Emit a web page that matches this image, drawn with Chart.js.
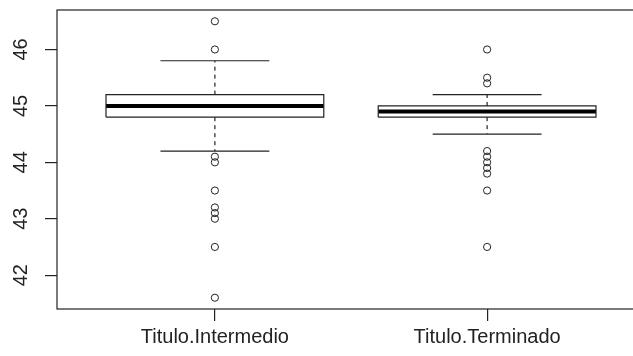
<!DOCTYPE html>
<html>
<head>
<meta charset="utf-8">
<script src="https://cdn.jsdelivr.net/npm/chart.js@4.4.0/dist/chart.umd.min.js"></script>
<style>
    html, body { margin: 0; padding: 0; background: #fff; overflow: hidden; }
    #wrap { width: 633px; height: 356px; overflow: hidden; }
</style>
</head>
<body>
<div id="wrap">
    <canvas id="boxChart" width="660" height="356"></canvas>
</div>
<script>
// Boxplot data
var categories = ['Titulo.Intermedio', 'Titulo.Terminado'];
var positions = [1, 2];
var whiskerLow = [44.2, 44.5];
var quartile1 = [44.8, 44.8];
var medians = [45.0, 44.9];
var quartile3 = [45.2, 45.0];
var whiskerHigh = [45.8, 45.2];
var outliersIntermedio = [46.5, 46.0, 44.1, 44.0, 43.5, 43.2, 43.1, 43.0, 42.5, 41.6];
var outliersTerminado = [46.0, 45.5, 45.4, 44.2, 44.1, 44.0, 43.9, 43.8, 43.5, 42.5];
var yTicks = [42, 43, 44, 45, 46];

var BOX_HALF = 0.4;
var CAP_HALF = 0.2;
var INK = '#222';

// Build line datasets for every box
function buildDatasets() {
    var sets = [];
    positions.forEach(function(x, i) {
        // box outline
        sets.push({
            data: [
                {x: x - BOX_HALF, y: quartile1[i]}, {x: x + BOX_HALF, y: quartile1[i]},
                {x: x + BOX_HALF, y: quartile3[i]}, {x: x - BOX_HALF, y: quartile3[i]},
                {x: x - BOX_HALF, y: quartile1[i]}
            ],
            showLine: true, borderColor: INK, borderWidth: 1.2, pointRadius: 0, fill: false
        });
        // median
        sets.push({
            data: [{x: x - BOX_HALF, y: medians[i]}, {x: x + BOX_HALF, y: medians[i]}],
            showLine: true, borderColor: '#000', borderWidth: 4, pointRadius: 0
        });
        // whiskers (dashed)
        sets.push({
            data: [{x: x, y: quartile3[i]}, {x: x, y: whiskerHigh[i]}],
            showLine: true, borderColor: INK, borderWidth: 1.2, borderDash: [4, 4], pointRadius: 0
        });
        sets.push({
            data: [{x: x, y: quartile1[i]}, {x: x, y: whiskerLow[i]}],
            showLine: true, borderColor: INK, borderWidth: 1.2, borderDash: [4, 4], pointRadius: 0
        });
        // caps
        sets.push({
            data: [{x: x - CAP_HALF, y: whiskerHigh[i]}, {x: x + CAP_HALF, y: whiskerHigh[i]}],
            showLine: true, borderColor: INK, borderWidth: 1.2, pointRadius: 0
        });
        sets.push({
            data: [{x: x - CAP_HALF, y: whiskerLow[i]}, {x: x + CAP_HALF, y: whiskerLow[i]}],
            showLine: true, borderColor: INK, borderWidth: 1.2, pointRadius: 0
        });
    });
    // outliers
    [outliersIntermedio, outliersTerminado].forEach(function(list, i) {
        sets.push({
            data: list.map(function(v) { return {x: positions[i], y: v}; }),
            showLine: false, pointStyle: 'circle', pointRadius: 3.6,
            pointBackgroundColor: 'rgba(0,0,0,0)', pointBorderColor: INK, pointBorderWidth: 1
        });
    });
    return sets;
}

// Frame around the plot and rotated y labels
var framePlugin = {
    id: 'frame',
    afterDraw: function(chart) {
        var ctx = chart.ctx;
        var area = chart.chartArea;
        var yScale = chart.scales.y;
        ctx.save();
        ctx.strokeStyle = INK;
        ctx.lineWidth = 1.2;
        ctx.strokeRect(area.left, area.top, area.right - area.left, area.bottom - area.top);
        ctx.fillStyle = INK;
        ctx.font = '20px "Liberation Sans", Arial, sans-serif';
        ctx.textAlign = 'center';
        ctx.textBaseline = 'middle';
        yTicks.forEach(function(v) {
            var py = yScale.getPixelForValue(v);
            ctx.save();
            ctx.translate(21, py);
            ctx.rotate(-Math.PI / 2);
            ctx.fillText(String(v), 0, 0);
            ctx.restore();
        });
        ctx.restore();
    }
};

new Chart(document.getElementById('boxChart'), {
    type: 'scatter',
    data: { datasets: buildDatasets() },
    options: {
        responsive: false,
        animation: false,
        devicePixelRatio: 1,
        layout: { padding: { top: 10, right: 15, left: 0, bottom: 0 } },
        plugins: { legend: { display: false }, tooltip: { enabled: false } },
        scales: {
            x: {
                type: 'linear',
                min: 0.42,
                max: 2.58,
                afterBuildTicks: function(scale) {
                    scale.ticks = positions.map(function(p) { return {value: p}; });
                },
                afterFit: function(scale) { scale.height = 47; },
                ticks: {
                    autoSkip: false,
                    maxRotation: 0,
                    padding: 4,
                    color: INK,
                    font: { family: '"Liberation Sans", Arial, sans-serif', size: 20 },
                    callback: function(value) {
                        var idx = positions.indexOf(value);
                        return idx >= 0 ? categories[idx] : '';
                    }
                },
                grid: { drawOnChartArea: false, drawTicks: true, tickLength: 12, color: INK, lineWidth: 1.2 },
                border: { display: false }
            },
            y: {
                min: 41.4,
                max: 46.7,
                afterBuildTicks: function(scale) {
                    scale.ticks = yTicks.map(function(v) { return {value: v}; });
                },
                afterFit: function(scale) { scale.width = 57; },
                ticks: { display: false },
                grid: { drawOnChartArea: false, drawTicks: true, tickLength: 12, color: INK, lineWidth: 1.2 },
                border: { display: false }
            }
        }
    },
    plugins: [framePlugin]
});
</script>
</body>
</html>
